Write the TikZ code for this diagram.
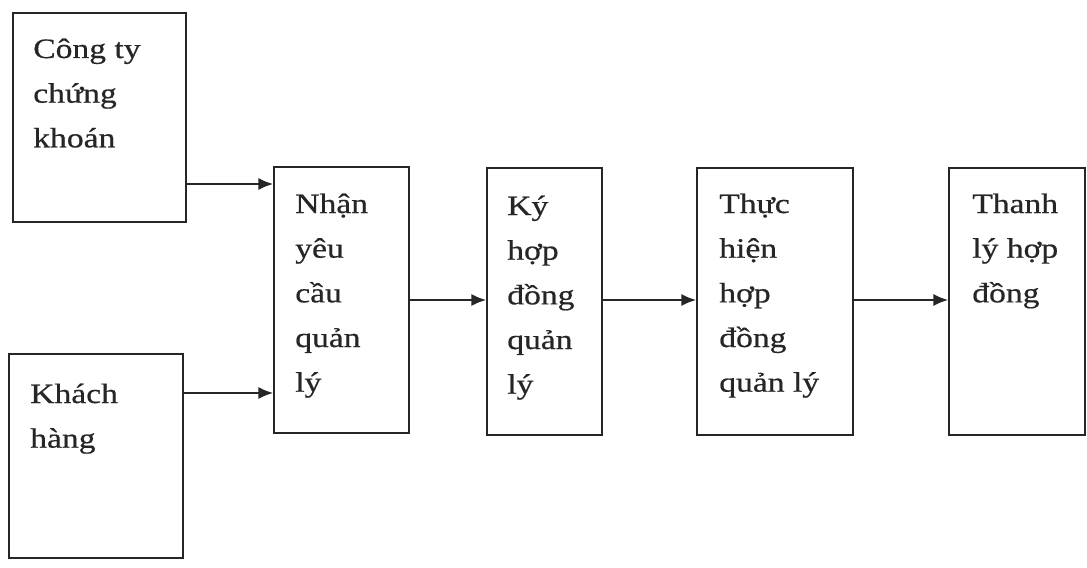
\documentclass[tikz,border=0pt]{standalone}
\usepackage{fontspec}
\setmainfont[FakeStretch=1.2,FakeBold=0.6]{Liberation Serif}
\usetikzlibrary{arrows.meta,fit}
\begin{document}
\begin{tikzpicture}[x=0.75pt,y=-0.75pt,
  box/.style={draw=black!85,line width=1.3pt,inner sep=0pt},
  txt/.style={anchor=base west,inner sep=0pt,text=black!85,font=\fontsize{21pt}{33.5pt}\selectfont},
  arr/.style={draw=black!85,line width=1.3pt,-{Latex[length=11pt,width=9pt]}}]
\useasboundingbox (0,0) rectangle (1087,567);
% boxes
\node[box,fit={(13,13)(186,222)}] (ctck) {};
\node[box,fit={(9,354)(183,558)}] (kh) {};
\node[box,fit={(274,167)(409,433)}] (nhan) {};
\node[box,fit={(487,168)(602,435)}] (ky) {};
\node[box,fit={(697,168)(853,435)}] (thuc) {};
\node[box,fit={(949,168)(1085,435)}] (thanh) {};
% labels
\newcommand{\lbl}[1]{\parbox[t]{150pt}{\raggedright #1}}
\node[txt] (tctck) at (33,58) {\lbl{Công ty\\chứng\\khoán}};
\node[txt] (tkh) at (30,403) {\lbl{Khách\\hàng}};
\node[txt] (tnhan) at (295,213) {\lbl{Nhận\\yêu\\cầu\\quản\\lý}};
\node[txt] (tky) at (507,215) {\lbl{Ký\\hợp\\đồng\\quản\\lý}};
\node[txt] (tthuc) at (719,213) {\lbl{Thực\\hiện\\hợp\\đồng\\quản lý}};
\node[txt] (tthanh) at (972,213) {\lbl{Thanh\\lý hợp\\đồng}};
% connectors
\draw[arr] (ctck.east |- 0,184) -- (nhan.west |- 0,184);
\draw[arr] (kh.east |- 0,393) -- (nhan.west |- 0,393);
\draw[arr] (nhan.east |- 0,300) -- (ky.west |- 0,300);
\draw[arr] (ky.east |- 0,300) -- (thuc.west |- 0,300);
\draw[arr] (thuc.east |- 0,300) -- (thanh.west |- 0,300);
\end{tikzpicture}
\end{document}
